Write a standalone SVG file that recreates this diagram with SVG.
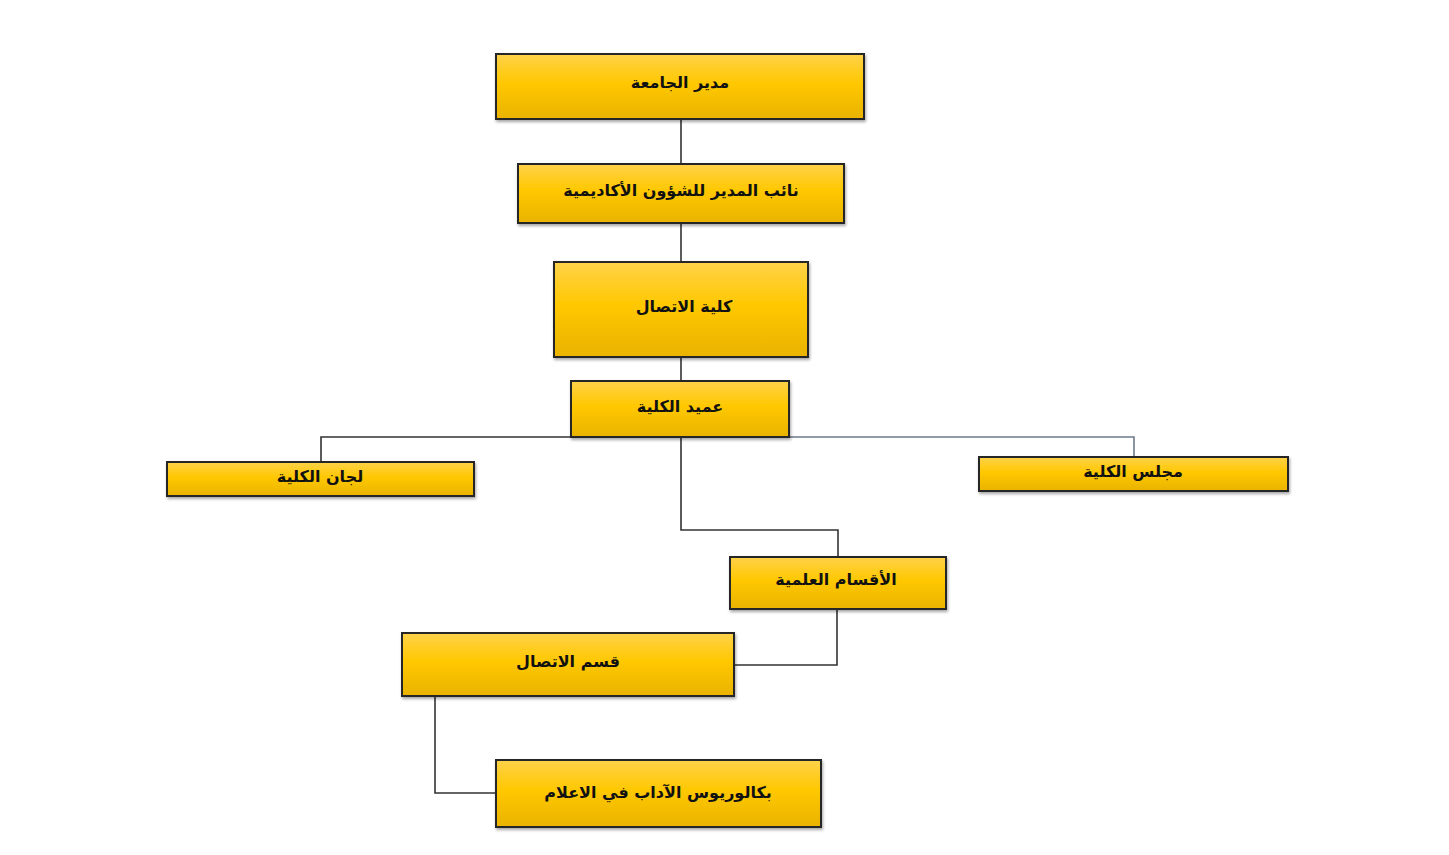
<svg xmlns="http://www.w3.org/2000/svg" width="1449" height="855" viewBox="0 0 1449 855">
<defs>
<linearGradient id="g" x1="0" y1="0" x2="0" y2="1">
<stop offset="0" stop-color="#FFD24A"/>
<stop offset="0.45" stop-color="#FFC800"/>
<stop offset="1" stop-color="#E9B300"/>
</linearGradient>
<filter id="sh" x="-5%" y="-10%" width="110%" height="130%">
<feDropShadow dx="1" dy="2" stdDeviation="1.5" flood-color="#000" flood-opacity="0.35"/>
</filter>
</defs>
<style>
.box{fill:url(#g);stroke:#262626;stroke-width:2;filter:url(#sh)}
.t{font-family:"DejaVu Sans","Noto Sans",sans-serif;font-weight:bold;font-size:16px;fill:#111;text-anchor:middle;dominant-baseline:central}
.c{fill:none;stroke:#333;stroke-width:1.6}
.cb{fill:none;stroke:#6E7A8A;stroke-width:1.6}
</style>
<rect width="1449" height="855" fill="#fff"/>
<g id="connectors">
<path class="c" d="M681 119V164"/>
<path class="c" d="M681 223V262"/>
<path class="c" d="M681 357V381"/>
<path class="c" d="M571 437H321V462"/>
<path class="cb" d="M789 437H1134V457"/>
<path class="c" d="M681 437V530H838V557"/>
<path class="c" d="M837 609V665H734"/>
<path class="c" d="M435 696V793H496"/>
</g>
<g id="n1"><rect class="box" x="496" y="54" width="368" height="65"/><text class="t" x="680" y="82" direction="rtl">مدير الجامعة</text></g>
<g id="n2"><rect class="box" x="518" y="164" width="326" height="59"/><text class="t" x="681" y="190" direction="rtl">نائب المدير للشؤون الأكاديمية</text></g>
<g id="n3"><rect class="box" x="554" y="262" width="254" height="95"/><text class="t" x="684" y="306" direction="rtl">كلية الاتصال</text></g>
<g id="n4"><rect class="box" x="571" y="381" width="218" height="56"/><text class="t" x="680" y="406" direction="rtl">عميد الكلية</text></g>
<g id="n5"><rect class="box" x="167" y="462" width="307" height="34"/><text class="t" x="320" y="476" direction="rtl">لجان الكلية</text></g>
<g id="n6"><rect class="box" x="979" y="457" width="309" height="34"/><text class="t" x="1133" y="471" direction="rtl">مجلس الكلية</text></g>
<g id="n7"><rect class="box" x="730" y="557" width="216" height="52"/><text class="t" x="836" y="579" direction="rtl">الأقسام العلمية</text></g>
<g id="n8"><rect class="box" x="402" y="633" width="332" height="63"/><text class="t" x="568" y="661" direction="rtl">قسم الاتصال</text></g>
<g id="n9"><rect class="box" x="496" y="760" width="325" height="67"/><text class="t" x="658" y="792" direction="rtl">بكالوريوس الآداب في الاعلام</text></g>
</svg>
